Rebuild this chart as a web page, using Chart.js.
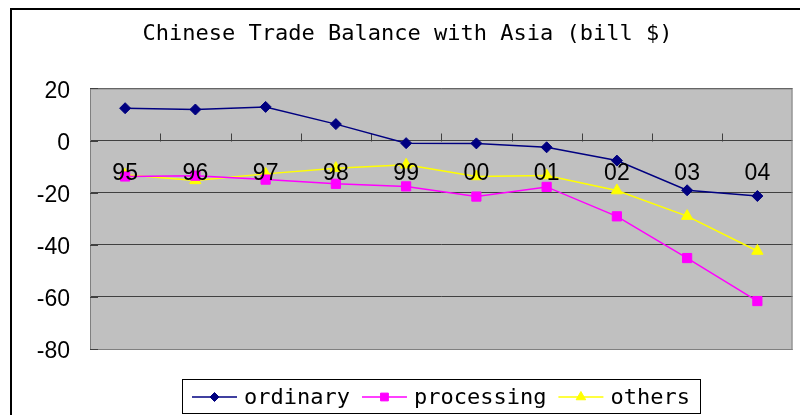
<!DOCTYPE html>
<html>
<head>
<meta charset="utf-8">
<title>Chinese Trade Balance with Asia</title>
<script src="https://cdn.jsdelivr.net/npm/chart.js@4/dist/chart.umd.min.js"></script>
<style>
  html, body { margin: 0; padding: 0; background: #fff; }
  canvas { display: block; }
</style>
</head>
<body>
<canvas id="tradeChart" width="800" height="415"></canvas>
<script>
// Years (two digit) and balances in billions of dollars
const years = ['95', '96', '97', '98', '99', '00', '01', '02', '03', '04'];
const ordinary = [12.4, 11.9, 12.9, 6.3, -1.0, -1.1, -2.6, -7.7, -19.1, -21.3];
const processing = [-13.8, -13.5, -15.0, -16.6, -17.6, -21.5, -17.8, -29.1, -45.1, -61.6];
const others = [-13.1, -15.3, -12.8, -10.6, -9.3, -13.8, -13.4, -19.2, -29.0, -42.4];
const yTicks = [20, 0, -20, -40, -60, -80];

const labelFont = { family: '"Liberation Sans", Arial, sans-serif', size: 23 };
const monoFont = '22px "DejaVu Sans Mono", monospace';

// grey plot area, frame, short tick marks and the outer border
const plotFrame = {
    id: 'plotFrame',
    beforeDraw(chart) {
        const { ctx, chartArea: a } = chart;
        ctx.save();
        ctx.fillStyle = '#ffffff';
        ctx.fillRect(0, 0, chart.width, chart.height);
        ctx.fillStyle = '#c0c0c0';
        ctx.fillRect(a.left, a.top, a.right - a.left, a.bottom - a.top);
        ctx.strokeStyle = '#000000';
        ctx.lineWidth = 2;
        ctx.strokeRect(11, 9, chart.width + 20, chart.height + 20);
        ctx.restore();
    },
    beforeDatasetsDraw(chart) {
        const { ctx, chartArea: a, scales } = chart;
        const x = scales.x, y = scales.y;
        ctx.save();
        ctx.strokeStyle = '#808080';
        ctx.lineWidth = 1;
        ctx.strokeRect(a.left + 0.5, a.top + 0.5, a.right - a.left - 1, a.bottom - a.top);
        ctx.strokeStyle = '#404040';
        ctx.beginPath();
        const zeroY = Math.round(y.getPixelForValue(0)) + 0.5;
        for (let i = 1; i < years.length; i++) {
            const bx = Math.round((x.getPixelForValue(i - 1) + x.getPixelForValue(i)) / 2) + 0.5;
            ctx.moveTo(bx, zeroY);
            ctx.lineTo(bx, zeroY - 8);
        }
        yTicks.forEach(v => {
            const ty = Math.round(y.getPixelForValue(v)) + 0.5;
            ctx.moveTo(a.left, ty);
            ctx.lineTo(a.left + 8, ty);
        });
        ctx.stroke();
        ctx.restore();
    }
};

// boxed legend under the plot: line sample with marker, then the name
const boxedLegend = {
    id: 'boxedLegend',
    afterDraw(chart) {
        const { ctx, chartArea: a } = chart;
        const sets = chart.data.datasets;
        const sample = 45, gap = 7, between = 12, pad = 10;
        ctx.save();
        ctx.font = monoFont;
        const widths = sets.map(d => ctx.measureText(d.label).width);
        let total = pad * 2;
        widths.forEach((w, i) => { total += sample + gap + w + (i ? between : 0); });
        const left = Math.round((a.left + a.right) / 2 - total / 2);
        const top = 379, h = 34, cy = 397;
        ctx.strokeStyle = '#000000';
        ctx.lineWidth = 1;
        ctx.strokeRect(left + 0.5, top + 0.5, Math.round(total), h);
        let cx = left + pad;
        sets.forEach((d, i) => {
            if (i) cx += between;
            ctx.strokeStyle = d.borderColor;
            ctx.fillStyle = d.backgroundColor;
            ctx.lineWidth = 1.5;
            ctx.beginPath();
            ctx.moveTo(cx, cy);
            ctx.lineTo(cx + sample, cy);
            ctx.stroke();
            ctx.lineWidth = 1;
            Chart.helpers.drawPoint(ctx, {
                pointStyle: d.pointStyle,
                radius: d.pointRadius - 1,
                rotation: 0,
                borderWidth: 1
            }, cx + sample / 2, cy);
            cx += sample + gap;
            ctx.fillStyle = '#000000';
            ctx.textBaseline = 'middle';
            ctx.textAlign = 'left';
            ctx.fillText(d.label, cx, cy + 1);
            cx += widths[i];
        });
        ctx.restore();
    }
};

function makeSeries(label, data, color, style, radius) {
    return {
        label: label,
        data: data,
        borderColor: color,
        backgroundColor: color,
        borderWidth: 1.5,
        pointStyle: style,
        pointRadius: radius,
        pointHoverRadius: radius,
        pointBackgroundColor: color,
        pointBorderColor: color,
        pointBorderWidth: 1,
        tension: 0,
        fill: false
    };
}

new Chart(document.getElementById('tradeChart'), {
    type: 'line',
    data: {
        labels: years,
        datasets: [
            makeSeries('ordinary', ordinary, '#000080', 'rectRot', 5.5),
            makeSeries('processing', processing, '#ff00ff', 'rect', 6.5),
            makeSeries('others', others, '#ffff00', 'triangle', 6.5)
        ]
    },
    options: {
        responsive: false,
        animation: false,
        layout: { padding: { left: 20, right: 5, top: 10, bottom: 66 } },
        plugins: {
            legend: { display: false },
            tooltip: { enabled: false },
            title: {
                display: true,
                text: 'Chinese Trade Balance with Asia (bill $)',
                color: '#000000',
                font: { family: '"DejaVu Sans Mono", monospace', size: 22, weight: 'normal' },
                padding: { top: 11, bottom: 41 }
            }
        },
        scales: {
            x: {
                position: { y: 0 },
                offset: true,
                grid: { display: false },
                border: { display: false },
                ticks: {
                    z: 1,
                    color: '#000000',
                    font: labelFont,
                    padding: 11,
                    maxRotation: 0,
                    autoSkip: false
                }
            },
            y: {
                min: -80,
                max: 20,
                afterFit(scale) { scale.width = 70; },
                afterBuildTicks(scale) { scale.ticks = yTicks.map(v => ({ value: v })); },
                grid: { color: '#404040', lineWidth: 1, drawTicks: false },
                border: { display: false },
                ticks: {
                    color: '#000000',
                    font: labelFont,
                    padding: 20,
                    labelOffset: 3
                }
            }
        }
    },
    plugins: [plotFrame, boxedLegend]
});
</script>
</body>
</html>
